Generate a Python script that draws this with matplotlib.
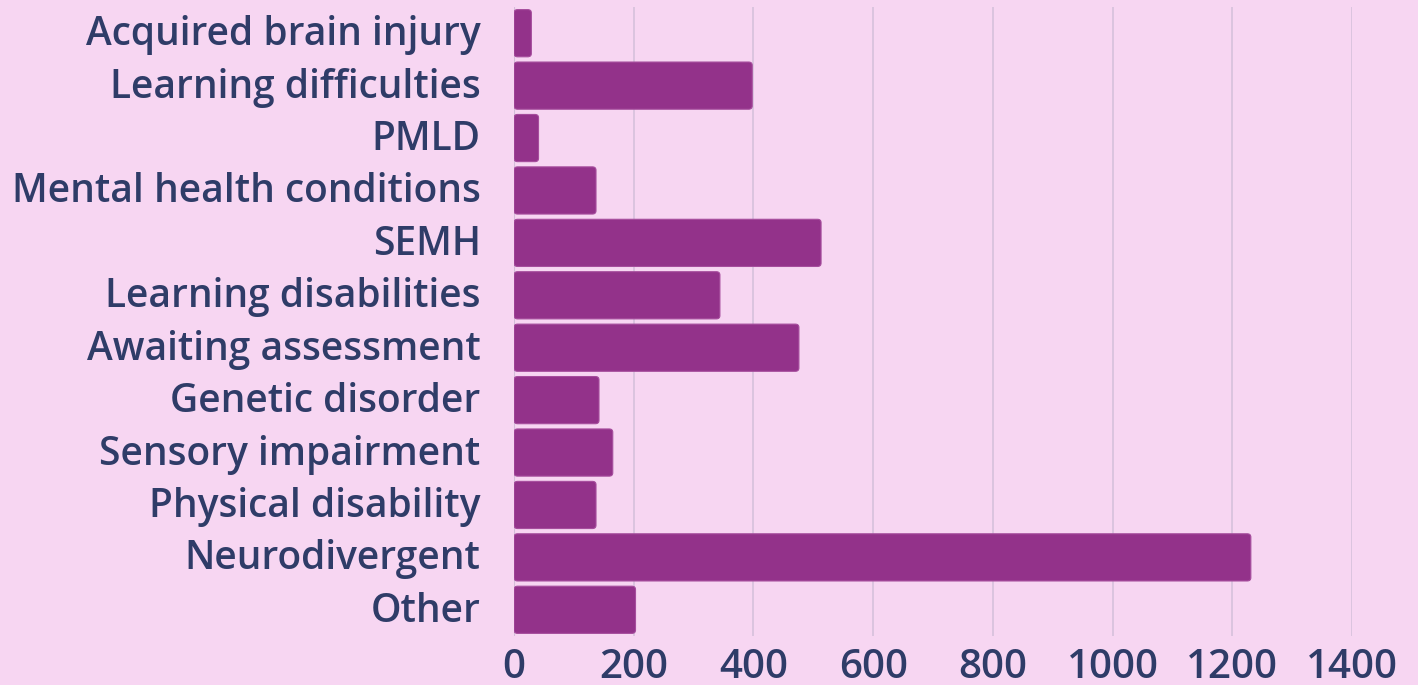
import matplotlib
matplotlib.use("Agg")
import matplotlib.pyplot as plt
import matplotlib.transforms as mtransforms
from matplotlib.patches import FancyBboxPatch

categories = ["Acquired brain injury", "Learning difficulties", "PMLD",
              "Mental health conditions", "SEMH", "Learning disabilities",
              "Awaiting assessment", "Genetic disorder", "Sensory impairment",
              "Physical disability", "Neurodivergent", "Other"]
counts = [29, 398, 41, 137, 513, 344, 476, 142, 165, 137, 1231, 203]
xticks = [0, 200, 400, 600, 800, 1000, 1200, 1400]

bg = "#F7D6F2"
bar_color = "#93328A"
text_color = "#2F3C68"
grid_color = "#D6C1DC"

plt.rcParams["font.family"] = ["Open Sans", "DejaVu Sans"]

fig = plt.figure(figsize=(14.18, 6.85), dpi=100, facecolor=bg)
ax = fig.add_axes([514 / 1418, 1 - 636 / 685, (1352 - 514) / 1418, (636 - 7) / 685])
ax.set_facecolor(bg)

bars = ax.barh(range(len(categories)), counts, height=0.9, color=bar_color)

ax.set_xlim(0, 1400)
ax.set_ylim(len(categories) - 0.5, -0.5)

# swap the plain rectangles for slightly rounded ones
for r in bars.patches:
    rounded = FancyBboxPatch((r.get_x(), r.get_y()), r.get_width(), r.get_height(),
                             boxstyle="round,pad=0,rounding_size=6",
                             mutation_aspect=0.0105,
                             facecolor=bar_color, edgecolor="#A64D9D",
                             linewidth=0.8, zorder=3)
    ax.add_patch(rounded)
    r.set_visible(False)

ax.set_xticks(xticks)
ax.set_yticks(range(len(categories)))
ax.set_yticklabels(categories)
ax.grid(axis="x", color=grid_color, linewidth=1.2, zorder=0)
ax.axvline(0, color="#C9B4CF", linewidth=1.5, zorder=1)

for s in ax.spines.values():
    s.set_visible(False)
ax.tick_params(axis="both", length=0, colors=text_color)
ax.tick_params(axis="y", pad=24, labelsize=28)
ax.tick_params(axis="x", pad=9, labelsize=29)
for lab in ax.get_xticklabels() + ax.get_yticklabels():
    lab.set_fontweight("semibold")

# nudge category labels up a little, as in the original
shift = mtransforms.ScaledTranslation(0, 3 / 100, fig.dpi_scale_trans)
for lab in ax.get_yticklabels():
    lab.set_transform(lab.get_transform() + shift)

fig.savefig("out.png", dpi=100, facecolor=bg)
